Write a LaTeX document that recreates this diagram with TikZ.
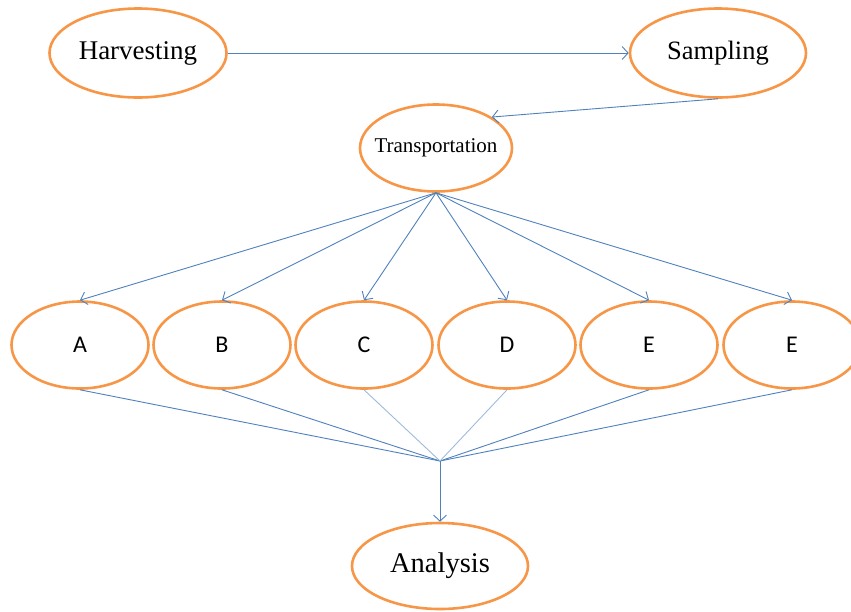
\documentclass[tikz,border=0pt]{standalone}
\usepackage{fontspec}
\setmainfont{Liberation Serif}
\newfontfamily\letterfont{Carlito}
\usetikzlibrary{arrows.meta,shapes.geometric}
\definecolor{stageorange}{RGB}{247,150,70}
\definecolor{flowblue}{RGB}{79,129,189}
\tikzset{
  stage/.style={ellipse, draw=stageorange, line width=2.6pt, inner sep=0pt,
                minimum width=137pt, minimum height=87pt},
  flow/.style={draw=flowblue, line width=0.9pt,
               -{Straight Barb[length=6pt,width=13pt]}},
  merge/.style={draw=flowblue, line width=0.9pt},
  lightmerge/.style={draw=flowblue!55, line width=0.9pt}
}
\begin{document}
\begin{tikzpicture}[x=1pt,y=-1pt]
  \useasboundingbox (0,0) rectangle (851,611);
  % top row
  \node[stage, minimum width=177pt, minimum height=89pt,
        font=\fontsize{27}{32}\selectfont] (harvest) at (138,53) {Harvesting};
  \node[stage, minimum width=176pt, minimum height=89pt,
        font=\fontsize{26.5}{31}\selectfont] (sampling) at (718,53) {Sampling};
  \node[stage, minimum width=152pt, minimum height=87pt,
        font=\fontsize{21}{25}\selectfont] (transport) at (436,148)
        {\makebox[90pt]{Transportation}};
  % sample groups
  \foreach \name/\x/\lbl in {grpa/80/A, grpb/222/B, grpc/364/C,
                             grpd/507/D, grpe/649/E, grpf/792/E}
    \node[stage, font=\letterfont\fontsize{24}{28}\selectfont] (\name) at (\x,345) {\lbl};
  \node[stage, minimum width=176pt, minimum height=86pt,
        font=\fontsize{28.5}{33}\selectfont] (analysis) at (440,566) {Analysis};
  \coordinate (junction) at (440,461);

  \draw[flow] (harvest.east) -- (sampling.west);
  \draw[flow] (sampling.south) -- (transport.29);
  \foreach \name in {grpa,grpb,grpc,grpd,grpe,grpf}
    \draw[flow] (transport.south) -- (\name.north);
  \foreach \name in {grpa,grpb,grpe,grpf}
    \draw[merge] (\name.south) -- (junction);
  \foreach \name in {grpc,grpd}
    \draw[lightmerge] (\name.south) -- (junction);
  \draw[flow] (junction) -- (analysis.north);
\end{tikzpicture}
\end{document}
